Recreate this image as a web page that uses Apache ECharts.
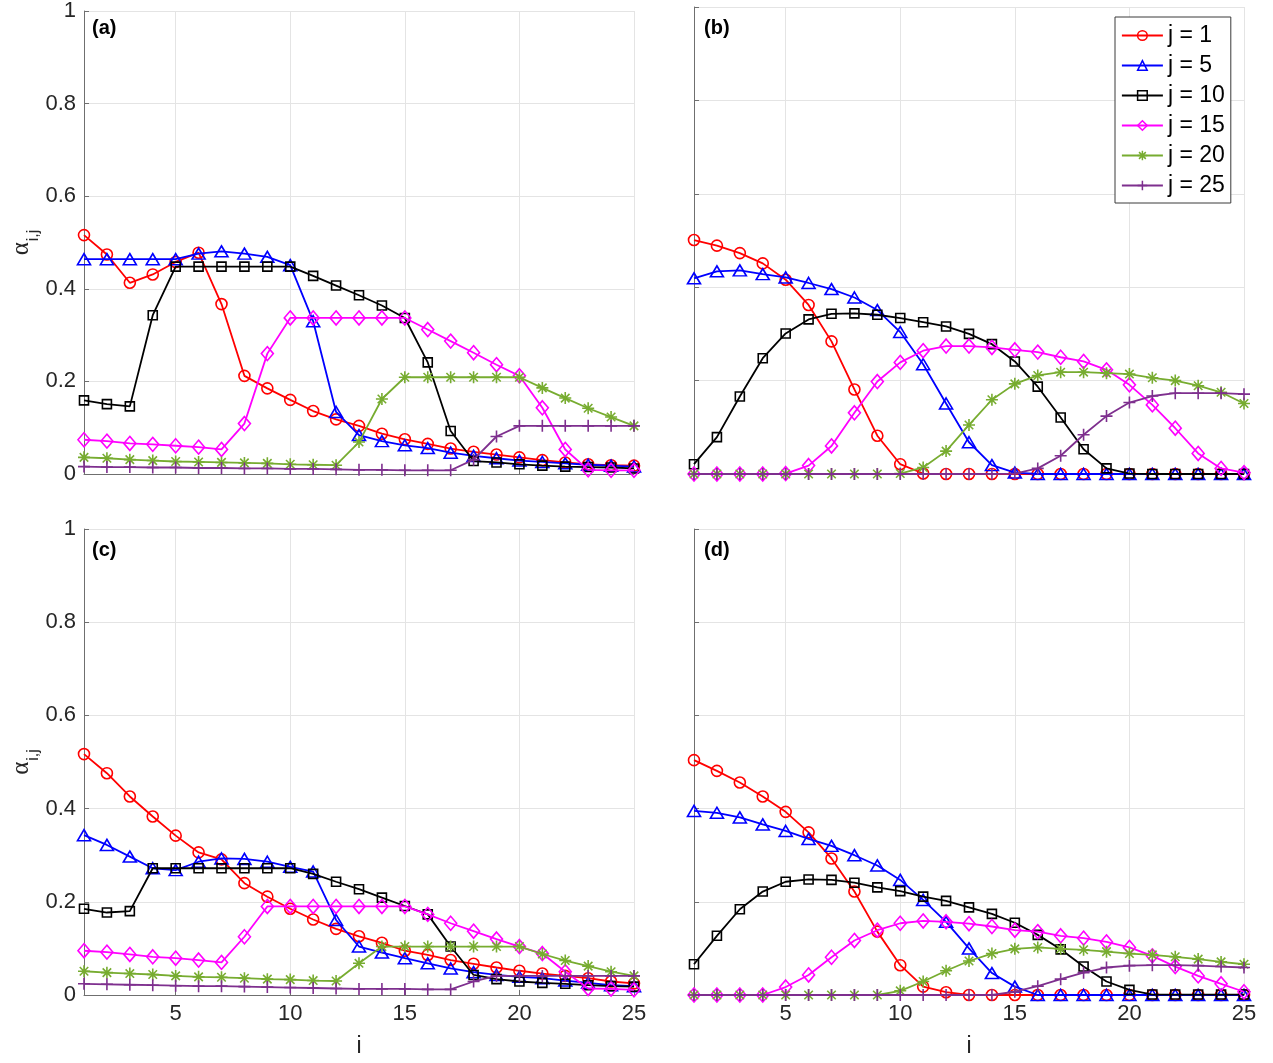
<!DOCTYPE html>
<html>
<head>
<meta charset="utf-8">
<script src="https://cdn.jsdelivr.net/npm/echarts@6/dist/echarts.min.js"></script>
<style>
  html, body { margin: 0; padding: 0; background: #ffffff; }
  #chart { width: 1273px; height: 1063px; }
</style>
</head>
<body>
<div id="chart"></div>
<script>
// Row index i shared by every panel
const I_VALUES = [1, 2, 3, 4, 5, 6, 7, 8, 9, 10, 11, 12, 13, 14, 15, 16, 17, 18, 19, 20, 21, 22, 23, 24, 25];
const X_TICKS = [5, 10, 15, 20, 25];
const SERIES_NAMES = ['j = 1', 'j = 5', 'j = 10', 'j = 15', 'j = 20', 'j = 25'];
const PANEL_LABELS = ['(a)', '(b)', '(c)', '(d)'];

// Panel (a)
const a_j1  = [0.516, 0.474, 0.413, 0.431, 0.458, 0.478, 0.367, 0.212, 0.185, 0.160, 0.136, 0.118, 0.104, 0.087, 0.075, 0.065, 0.055, 0.048, 0.042, 0.036, 0.030, 0.025, 0.021, 0.019, 0.018];
const a_j5  = [0.464, 0.464, 0.464, 0.464, 0.464, 0.476, 0.481, 0.476, 0.469, 0.451, 0.330, 0.134, 0.084, 0.071, 0.062, 0.056, 0.046, 0.039, 0.034, 0.029, 0.026, 0.023, 0.020, 0.018, 0.016];
const a_j10 = [0.159, 0.151, 0.146, 0.343, 0.448, 0.448, 0.448, 0.448, 0.448, 0.448, 0.428, 0.407, 0.386, 0.364, 0.337, 0.241, 0.093, 0.028, 0.025, 0.021, 0.018, 0.016, 0.015, 0.014, 0.012];
const a_j15 = [0.074, 0.071, 0.066, 0.064, 0.061, 0.058, 0.053, 0.109, 0.260, 0.337, 0.337, 0.337, 0.337, 0.337, 0.337, 0.312, 0.287, 0.262, 0.236, 0.212, 0.143, 0.053, 0.009, 0.008, 0.008];
const a_j20 = [0.036, 0.034, 0.031, 0.029, 0.027, 0.026, 0.025, 0.024, 0.023, 0.021, 0.020, 0.019, 0.069, 0.162, 0.209, 0.209, 0.209, 0.209, 0.209, 0.209, 0.186, 0.164, 0.142, 0.123, 0.104];
const a_j25 = [0.016, 0.015, 0.015, 0.014, 0.014, 0.013, 0.013, 0.012, 0.012, 0.011, 0.011, 0.010, 0.009, 0.009, 0.008, 0.008, 0.008, 0.031, 0.081, 0.104, 0.104, 0.104, 0.104, 0.104, 0.104];

// Panel (b)
const b_j1  = [0.501, 0.489, 0.473, 0.451, 0.416, 0.362, 0.284, 0.181, 0.082, 0.021, 0.001, 0, 0, 0, 0, 0, 0, 0, 0, 0, 0, 0, 0, 0, 0];
const b_j5  = [0.419, 0.434, 0.436, 0.428, 0.421, 0.409, 0.396, 0.378, 0.351, 0.304, 0.235, 0.151, 0.068, 0.019, 0.003, 0, 0, 0, 0, 0, 0, 0, 0, 0, 0];
const b_j10 = [0.021, 0.079, 0.166, 0.248, 0.301, 0.331, 0.343, 0.344, 0.341, 0.334, 0.325, 0.316, 0.300, 0.278, 0.241, 0.187, 0.121, 0.053, 0.012, 0.001, 0, 0, 0, 0, 0];
const b_j15 = [0, 0, 0, 0, 0.001, 0.018, 0.060, 0.131, 0.198, 0.239, 0.264, 0.274, 0.274, 0.271, 0.266, 0.261, 0.250, 0.241, 0.223, 0.191, 0.148, 0.098, 0.044, 0.012, 0.003];
const b_j20 = [0, 0, 0, 0, 0, 0, 0, 0, 0, 0.001, 0.014, 0.049, 0.105, 0.159, 0.193, 0.211, 0.218, 0.218, 0.216, 0.214, 0.206, 0.200, 0.189, 0.175, 0.151];
const b_j25 = [0, 0, 0, 0, 0, 0, 0, 0, 0, 0, 0, 0, 0, 0, 0.001, 0.012, 0.039, 0.084, 0.124, 0.153, 0.167, 0.173, 0.173, 0.173, 0.171];

// Panel (c)
const c_j1  = [0.517, 0.476, 0.426, 0.383, 0.342, 0.306, 0.291, 0.240, 0.211, 0.185, 0.162, 0.142, 0.126, 0.112, 0.095, 0.086, 0.075, 0.067, 0.059, 0.052, 0.046, 0.041, 0.036, 0.029, 0.025];
const c_j5  = [0.343, 0.322, 0.297, 0.272, 0.268, 0.286, 0.293, 0.292, 0.286, 0.275, 0.265, 0.161, 0.104, 0.091, 0.079, 0.068, 0.057, 0.049, 0.043, 0.039, 0.036, 0.031, 0.026, 0.021, 0.019];
const c_j10 = [0.185, 0.177, 0.180, 0.272, 0.272, 0.272, 0.272, 0.272, 0.272, 0.272, 0.260, 0.243, 0.227, 0.209, 0.191, 0.173, 0.104, 0.043, 0.034, 0.029, 0.026, 0.024, 0.021, 0.019, 0.018];
const c_j15 = [0.095, 0.092, 0.087, 0.082, 0.079, 0.075, 0.070, 0.125, 0.190, 0.190, 0.190, 0.190, 0.190, 0.190, 0.190, 0.173, 0.154, 0.137, 0.120, 0.104, 0.089, 0.050, 0.014, 0.013, 0.011];
const c_j20 = [0.051, 0.048, 0.046, 0.044, 0.041, 0.039, 0.038, 0.036, 0.034, 0.033, 0.031, 0.030, 0.068, 0.104, 0.104, 0.104, 0.104, 0.104, 0.104, 0.104, 0.088, 0.074, 0.062, 0.050, 0.041];
const c_j25 = [0.024, 0.023, 0.022, 0.021, 0.020, 0.019, 0.019, 0.018, 0.017, 0.016, 0.015, 0.014, 0.013, 0.013, 0.013, 0.012, 0.012, 0.029, 0.041, 0.041, 0.041, 0.041, 0.041, 0.041, 0.041];

// Panel (d)
const d_j1  = [0.504, 0.481, 0.456, 0.426, 0.393, 0.349, 0.293, 0.222, 0.136, 0.064, 0.018, 0.006, 0, 0, 0, 0, 0, 0, 0, 0, 0, 0, 0, 0, 0];
const d_j5  = [0.395, 0.391, 0.381, 0.366, 0.352, 0.335, 0.320, 0.300, 0.278, 0.247, 0.204, 0.157, 0.100, 0.047, 0.018, 0, 0, 0, 0, 0, 0, 0, 0, 0, 0];
const d_j10 = [0.066, 0.127, 0.184, 0.222, 0.243, 0.248, 0.247, 0.241, 0.231, 0.223, 0.211, 0.202, 0.188, 0.174, 0.155, 0.129, 0.098, 0.061, 0.029, 0.011, 0.001, 0.001, 0.001, 0.001, 0.001];
const d_j15 = [0, 0, 0, 0, 0.017, 0.043, 0.081, 0.117, 0.139, 0.154, 0.159, 0.157, 0.153, 0.147, 0.139, 0.136, 0.127, 0.122, 0.114, 0.102, 0.084, 0.061, 0.041, 0.024, 0.007];
const d_j20 = [0, 0, 0, 0, 0, 0, 0, 0, 0, 0.009, 0.029, 0.052, 0.073, 0.089, 0.099, 0.102, 0.099, 0.097, 0.093, 0.089, 0.086, 0.082, 0.077, 0.071, 0.066];
const d_j25 = [0, 0, 0, 0, 0, 0, 0, 0, 0, 0, 0, 0, 0, 0, 0.007, 0.019, 0.034, 0.048, 0.059, 0.063, 0.064, 0.064, 0.063, 0.061, 0.059];

const PANELS = [
  [a_j1, a_j5, a_j10, a_j15, a_j20, a_j25],
  [b_j1, b_j5, b_j10, b_j15, b_j20, b_j25],
  [c_j1, c_j5, c_j10, c_j15, c_j20, c_j25],
  [d_j1, d_j5, d_j10, d_j15, d_j20, d_j25]
];

// Marker outlines: asterisk (plus + cross) and plus
const ASTERISK = 'path://M0,-10L0,10M-10,0L10,0M-7.07,-7.07L7.07,7.07M-7.07,7.07L7.07,-7.07';
const PLUS = 'path://M0,-10L0,10M-10,0L10,0';

const LOOKS = [
  { color: '#ff0000', symbol: 'circle',   size: 11 },
  { color: '#0000ff', symbol: 'triangle', size: [13, 11] },
  { color: '#000000', symbol: 'rect',     size: 9 },
  { color: '#ff00ff', symbol: 'diamond',  size: [12, 14] },
  { color: '#77ac30', symbol: ASTERISK,   size: 12 },
  { color: '#7e2f8e', symbol: PLUS,       size: 12 }
];

const FONT = '"Liberation Sans", Arial, Helvetica, sans-serif';
const AXIS_COLOR = '#6f6f6f';
const GRID_COLOR = '#e4e4e4';
const TEXT_COLOR = '#262626';

const GRIDS = [
  { left: 84,  top: 7,   width: 550, height: 467 },
  { left: 694, top: 7,   width: 550, height: 467 },
  { left: 84,  top: 529, width: 550, height: 466 },
  { left: 694, top: 529, width: 550, height: 466 }
];

const xAxes = GRIDS.map((g, k) => ({
  type: 'value',
  gridIndex: k,
  min: 1,
  max: 25,
  name: k >= 2 ? 'i' : '',
  nameLocation: 'middle',
  nameGap: 40,
  nameTextStyle: { fontSize: 23, color: TEXT_COLOR, fontFamily: FONT },
  axisLine: { show: true, onZero: false, lineStyle: { color: AXIS_COLOR, width: 1 } },
  axisTick: { show: true, inside: true, length: 5, customValues: X_TICKS, lineStyle: { color: AXIS_COLOR } },
  axisLabel: { show: k >= 2, customValues: X_TICKS, color: TEXT_COLOR, fontSize: 22, fontFamily: FONT, margin: 8 },
  splitLine: { show: true, lineStyle: { color: GRID_COLOR, width: 1 } }
}));

const yAxes = GRIDS.map((g, k) => ({
  type: 'value',
  gridIndex: k,
  min: 0,
  max: 1,
  interval: 0.2,
  name: k % 2 === 0 ? '{a|α}{b|i,j}' : '',
  nameLocation: 'middle',
  nameRotate: 90,
  nameGap: 50,
  nameTextStyle: {
    color: TEXT_COLOR,
    rich: {
      a: { fontSize: 25, fontFamily: '"Liberation Serif", "DejaVu Serif", serif', color: TEXT_COLOR, lineHeight: 24, verticalAlign: 'top' },
      b: { fontSize: 16, fontFamily: FONT, color: TEXT_COLOR, lineHeight: 16, padding: [17, 0, 0, 1], verticalAlign: 'top' }
    }
  },
  axisLine: { show: true, onZero: false, lineStyle: { color: AXIS_COLOR, width: 1 } },
  axisTick: { show: true, inside: true, length: 5, lineStyle: { color: AXIS_COLOR } },
  axisLabel: { show: k % 2 === 0, color: TEXT_COLOR, fontSize: 22, fontFamily: FONT, margin: 8 },
  splitLine: { show: true, lineStyle: { color: GRID_COLOR, width: 1 } }
}));

const series = [];
PANELS.forEach((panel, k) => {
  panel.forEach((values, s) => {
    const look = LOOKS[s];
    series.push({
      type: 'line',
      name: SERIES_NAMES[s],
      xAxisIndex: k,
      yAxisIndex: k,
      data: values.map((v, n) => [I_VALUES[n], v]),
      symbol: look.symbol,
      symbolSize: look.size,
      showAllSymbol: true,
      clip: false,
      lineStyle: { color: look.color, width: 1.8 },
      itemStyle: { color: 'rgba(0,0,0,0)', borderColor: look.color, borderWidth: 1.6 },
      emphasis: { disabled: true },
      z: 2 + s
    });
  });
});

const labelSpots = [[92, 18], [704, 18], [92, 540], [704, 540]];
const graphics = PANEL_LABELS.map((t, k) => ({
  type: 'text',
  left: labelSpots[k][0],
  top: labelSpots[k][1],
  z: 20,
  style: { text: t, font: 'bold 20px ' + FONT, fill: '#000000' }
}));

const option = {
  animation: false,
  backgroundColor: '#ffffff',
  grid: GRIDS,
  xAxis: xAxes,
  yAxis: yAxes,
  graphic: graphics,
  legend: {
    data: SERIES_NAMES,
    orient: 'vertical',
    left: 1115,
    top: 17,
    padding: [7, 6, 6, 6],
    itemWidth: 41,
    itemHeight: 12,
    itemGap: 7,
    backgroundColor: '#ffffff',
    borderColor: '#3a3a3a',
    borderWidth: 1,
    selectedMode: false,
    itemStyle: { borderWidth: 1.5 },
    lineStyle: { width: 1.8 },
    textStyle: { fontSize: 23, color: '#000000', fontFamily: FONT },
    z: 30
  },
  series: series
};

const chart = echarts.init(document.getElementById('chart'));
chart.setOption(option);
</script>
</body>
</html>
